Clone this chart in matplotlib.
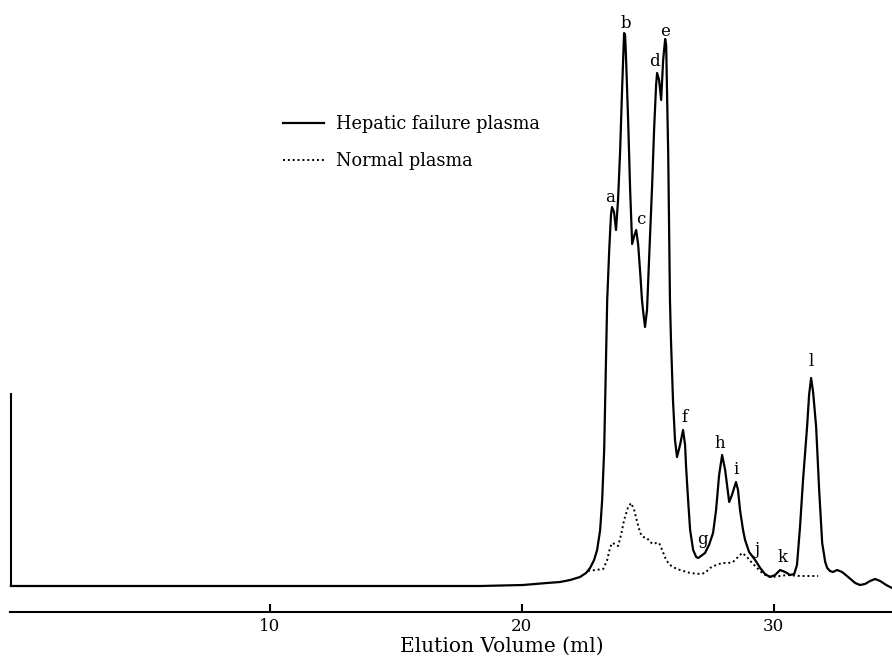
import matplotlib.pyplot as plt

# elution volume (ml) vs detector response (relative units)
hepatic_ml = [-0.27, 3.27, 7.23, 11.21, 15.17, 18.35, 20.05, 21.00, 21.52, 21.92,
              22.31, 22.55, 22.71, 22.87, 22.99, 23.11, 23.19, 23.27, 23.31, 23.35,
              23.39, 23.47, 23.54, 23.58, 23.66, 23.74, 23.82, 23.90, 23.98, 24.06,
              24.10, 24.14, 24.22, 24.30, 24.38, 24.46, 24.54, 24.62, 24.70, 24.77,
              24.81, 24.89, 24.97, 25.05, 25.17, 25.25, 25.33, 25.37, 25.45, 25.53,
              25.61, 25.69, 25.73, 25.77, 25.81, 25.88, 25.92, 26.00, 26.08, 26.16,
              26.28, 26.40, 26.48, 26.52, 26.60, 26.68, 26.80, 26.92, 27.00, 27.11,
              27.27, 27.43, 27.59, 27.71, 27.83, 27.95, 28.07, 28.23, 28.34, 28.50,
              28.58, 28.66, 28.78, 28.86, 29.02, 29.26, 29.46, 29.65, 29.85, 30.05,
              30.25, 30.45, 30.65, 30.81, 30.92, 31.04, 31.16, 31.32, 31.40, 31.48,
              31.56, 31.68, 31.80, 31.92, 32.04, 32.12, 32.23, 32.35, 32.51, 32.71,
              32.95, 33.23, 33.42, 33.62, 33.82, 34.02, 34.22, 34.46, 34.69]
hepatic_abs = [0, 0, 0, 0, 0, 0, 1, 3, 4, 6,
               9, 13, 18, 26, 36, 56, 86, 136, 186, 236,
               286, 336, 371, 379, 374, 356, 386, 433, 496, 553,
               551, 526, 466, 396, 342, 350, 356, 341, 313, 286,
               276, 259, 276, 326, 399, 456, 501, 513, 506, 486,
               526, 547, 541, 486, 433, 286, 246, 186, 146, 129,
               141, 156, 141, 119, 86, 56, 36, 29, 28, 30,
               33, 41, 53, 76, 111, 131, 116, 84, 91, 104,
               96, 76, 56, 46, 34, 26, 18, 12, 9, 11,
               16, 14, 11, 12, 21, 59, 106, 159, 191, 208,
               194, 159, 96, 43, 24, 18, 15, 14, 16, 14,
               9, 3, 1, 2, 5, 7, 5, 1, -2]

normal_ml = [22.63, 22.91, 23.23, 23.39, 23.50, 23.58, 23.70, 23.82, 23.94, 24.06,
             24.22, 24.34, 24.46, 24.58, 24.70, 24.81, 24.97, 25.09, 25.21, 25.33,
             25.45, 25.57, 25.73, 25.88, 26.08, 26.28, 26.68, 27.07, 27.27, 27.47,
             27.71, 27.95, 28.19, 28.38, 28.58, 28.74, 28.90, 29.14, 29.34, 29.54,
             29.73, 29.93, 30.25, 30.53, 31.04, 31.76]
normal_abs = [15, 16, 17, 26, 38, 43, 42, 40, 51, 66,
              79, 83, 76, 64, 53, 49, 48, 44, 42, 43,
              43, 36, 26, 21, 18, 16, 13, 12, 13, 18,
              21, 23, 23, 24, 29, 33, 30, 23, 18, 13,
              10, 9, 10, 11, 10, 10]

# recorder pen mark at the start of the run
pen_mark_ml = -0.27
pen_mark_height = 193

peak_names = ["a", "b", "c", "d", "e", "f", "g", "h", "i", "j", "k", "l"]
peak_label_ml = [23.50, 24.14, 24.74, 25.25, 25.69, 26.44, 27.16, 27.87, 28.50, 29.34, 30.33, 31.48]
peak_label_y = [388, 562, 366, 524, 555, 168, 46, 143, 116, 36, 29, 224]

xticks = [10, 20, 30]

plt.rcParams['font.family'] = ['DejaVu Serif']

fig = plt.figure(figsize=[8.92, 6.58], dpi=100)
ax = fig.add_axes([0, 46 / 658, 1, 612 / 658])

ax.plot(hepatic_ml, hepatic_abs, color="black", lw=1.6, label="Hepatic failure plasma")
ax.plot(normal_ml, normal_abs, color="black", lw=1.4, linestyle=(0, (1, 1.5)),
        label="Normal plasma")
ax.vlines(pen_mark_ml, 0, pen_mark_height, color="black", lw=1.5)

for name, px, py in zip(peak_names, peak_label_ml, peak_label_y):
  ax.text(px, py, name, ha="center", va="center", fontsize=12)

ax.set_xlim(-0.702, 34.69)
ax.set_ylim(-26, 586)
ax.set_xticks(xticks)
ax.set_xticklabels([str(t) for t in xticks], fontsize=12)
ax.set_yticks([])
ax.tick_params(axis="x", direction="in", length=6, width=1.5, pad=4)
for side in ["top", "right", "left"]:
  ax.spines[side].set_visible(False)
ax.spines["bottom"].set_linewidth(1.5)
ax.spines["bottom"].set_bounds(-0.31, 34.69)

ax.set_xlabel("Elution Volume (ml)", fontsize=14.5)
ax.xaxis.set_label_coords(502 / 892, -0.04)

ax.legend(loc="upper left", bbox_to_anchor=(0.317, 0.812), frameon=False,
          fontsize=12.8, handlelength=2.3, handletextpad=0.7, labelspacing=1.05,
          borderaxespad=0, borderpad=0)

fig.savefig("out.png", dpi=100)
